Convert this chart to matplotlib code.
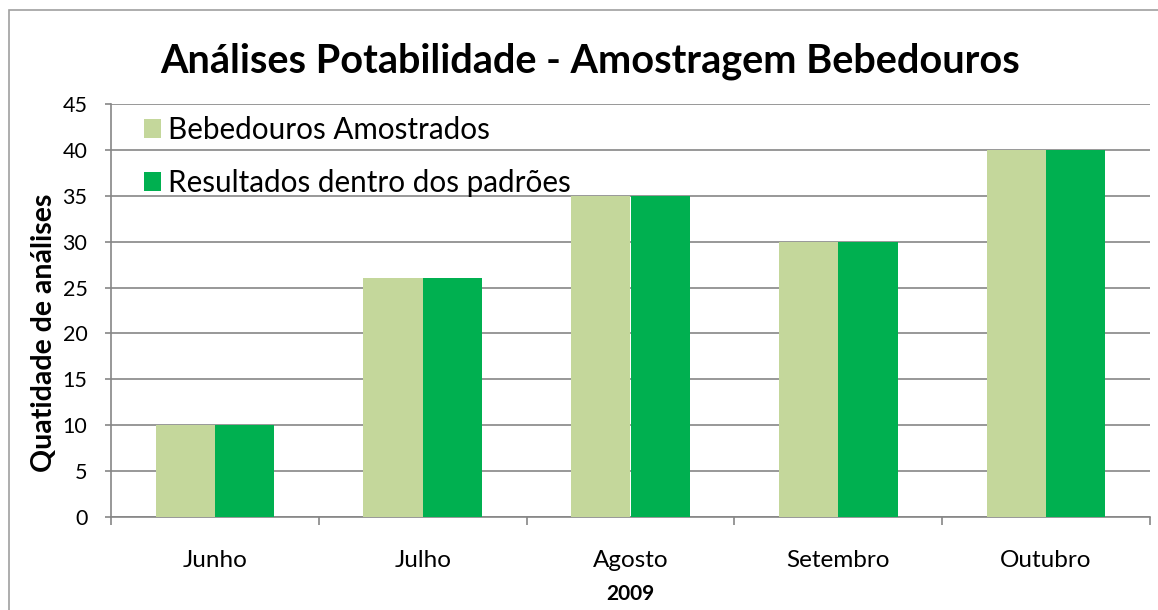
import numpy as np
import matplotlib
matplotlib.use("Agg")
import matplotlib.pyplot as plt
from matplotlib.patches import Rectangle

# chart data
months = ["Junho", "Julho", "Agosto", "Setembro", "Outubro"]
amostrados = [10, 26, 35, 30, 40]
dentro_padroes = [10, 26, 35, 30, 40]
yticks = [0, 5, 10, 15, 20, 25, 30, 35, 40, 45]

light_green = "#C4D79B"
dark_green = "#00B050"
grey = "#868686"

plt.rcParams["font.family"] = ["Lato", "DejaVu Sans"]

fig = plt.figure(figsize=(11.58, 6.10), dpi=100)
ax = fig.add_axes([111 / 1158, 1 - 517 / 610, (1150 - 111) / 1158, (517 - 104) / 610])

# outer chart border (right and bottom edges fall outside the image)
fig.patches.append(Rectangle((9 / 1158, -0.05), 1.2, 1 - 10 / 610 + 0.05,
                             transform=fig.transFigure, fill=False,
                             edgecolor="#A0A0A0", linewidth=1.2))

x = np.arange(len(months))
w = 1 / 3.5
ax.bar(x - w / 2, amostrados, width=w, color=light_green, label="Bebedouros Amostrados", zorder=3)
ax.bar(x + w / 2, dentro_padroes, width=w, color=dark_green, label="Resultados dentro dos padrões", zorder=3)

ax.set_xlim(-0.5, len(months) - 0.5)
ax.set_ylim(0, 45)
ax.set_yticks(yticks)
ax.set_yticklabels([str(t) for t in yticks], fontsize=15.5)
ax.yaxis.grid(True, color=grey, linewidth=1.2, zorder=0)

# category labels centred, ticks on category boundaries
ax.set_xticks(np.arange(-0.5, len(months)), minor=False)
ax.set_xticklabels([])
ax.set_xticks(x, minor=True)
ax.set_xticklabels(months, minor=True, fontsize=17.5)
ax.tick_params(axis="x", which="minor", length=0, pad=24)
ax.tick_params(axis="x", which="major", length=6, color=grey, width=1.2, direction="out")
ax.tick_params(axis="y", length=4, color=grey, width=1.2, direction="out", pad=13)

for s in ["top", "right"]:
    ax.spines[s].set_visible(False)
for s in ["left", "bottom"]:
    ax.spines[s].set_color(grey)
    ax.spines[s].set_linewidth(1.2)

ax.set_xlabel("2009", fontsize=15, fontweight="bold", labelpad=9)
ax.set_ylabel("Quatidade de análises", fontsize=20.5, fontweight="bold", labelpad=6)
ax.yaxis.set_label_coords(-0.052, 0.445)

fig.text(590 / 1158, 1 - 61 / 610, "Análises Potabilidade - Amostragem Bebedouros",
         ha="center", va="center", fontsize=28.5, fontweight="bold")

leg = ax.legend(loc="upper left", frameon=False, fontsize=21.3, handlelength=0.58,
                handleheight=0.58, handletextpad=0.25, labelspacing=0.85,
                borderaxespad=0.0, bbox_to_anchor=(0.02, 1.0))

fig.savefig("out.png", dpi=100)
